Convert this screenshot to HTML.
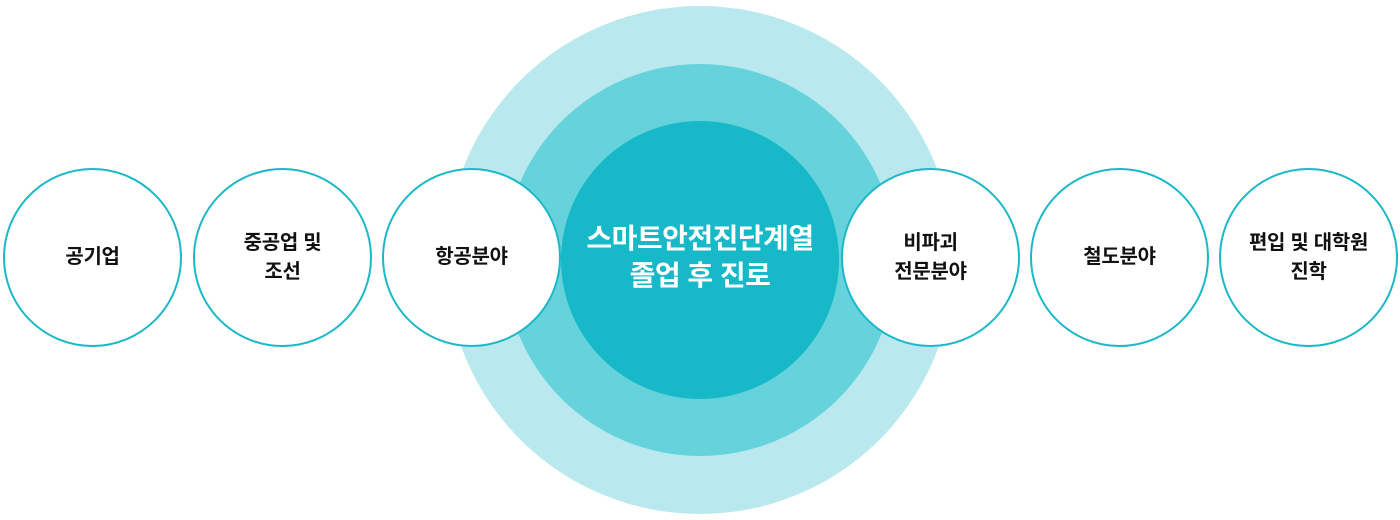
<!DOCTYPE html>
<html><head><meta charset="utf-8"><style>
html,body{margin:0;padding:0;background:#fff;width:1400px;height:520px;overflow:hidden;position:relative;font-family:"Liberation Sans","Noto Sans CJK KR",sans-serif;}
.c{position:absolute;border-radius:50%;}
.s{position:absolute;width:175px;height:175px;border:2px solid #1bb8c8;border-radius:50%;background:#fff;display:flex;align-items:center;justify-content:center;text-align:center;font-weight:bold;font-size:20px;line-height:29px;color:#111;letter-spacing:-0.3px;}
</style></head><body>
<div class="c" style="left:446px;top:6px;width:508px;height:508px;background:#b9e9ee"></div>
<div class="c" style="left:504px;top:64px;width:392px;height:392px;background:#66d3dc"></div>
<div class="c" style="left:561px;top:121px;width:278px;height:278px;background:#17b9c9"></div>
<div style="position:absolute;left:561px;top:220px;width:278px;text-align:center;color:#fff;font-weight:bold;font-size:28px;line-height:37px;letter-spacing:-0.5px;">스마트안전진단계열<br>졸업 후 진로</div>
<div class="s" style="left:3px;top:168px">공기업</div>
<div class="s" style="left:193px;top:168px">중공업 및<br>조선</div>
<div class="s" style="left:382px;top:168px">항공분야</div>
<div class="s" style="left:841px;top:168px">비파괴<br>전문분야</div>
<div class="s" style="left:1030px;top:168px">철도분야</div>
<div class="s" style="left:1219px;top:168px">편입 및 대학원<br>진학</div>
</body></html>
